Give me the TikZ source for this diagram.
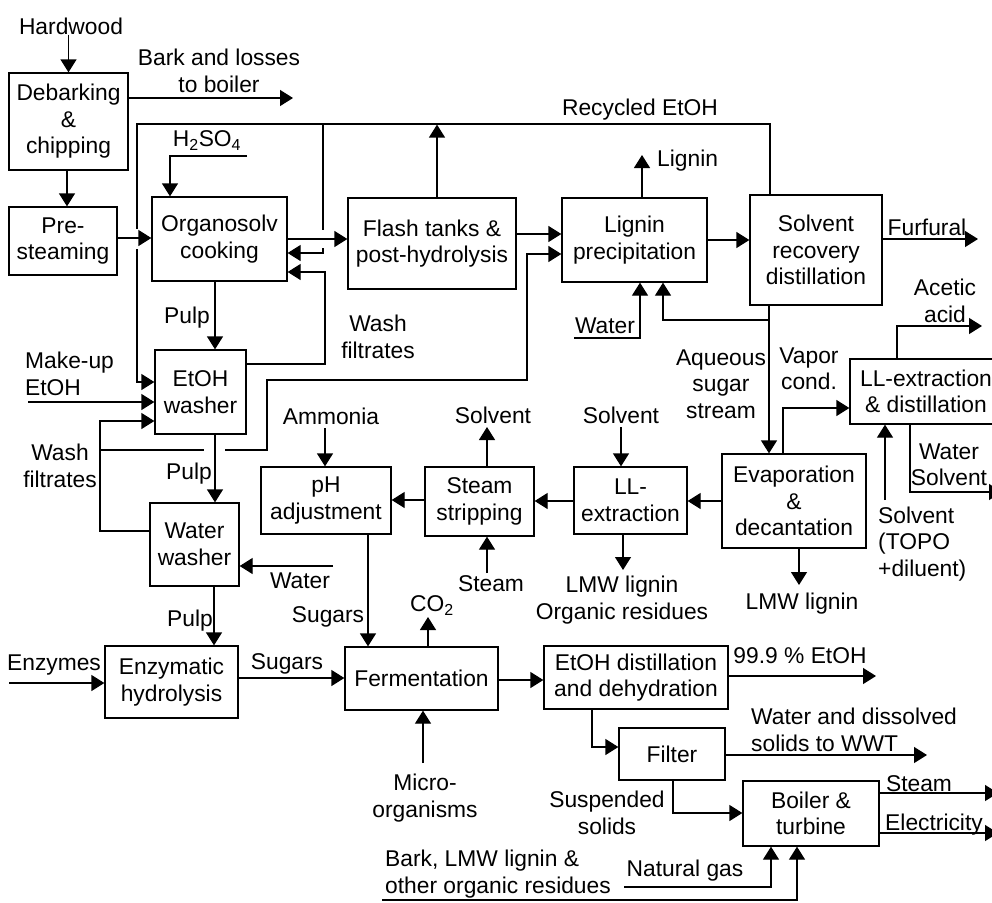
\documentclass[tikz,border=0pt]{standalone}
\usepackage{fontspec}
\setmainfont{Liberation Sans}
\usetikzlibrary{arrows.meta}
\begin{document}
\begin{tikzpicture}[x=1pt,y=-1pt,
  every node/.style={font=\fontsize{22.8}{26.5}\selectfont},
  box/.style={draw, line width=1.3pt, inner sep=0pt, align=center},
  lbl/.style={inner sep=0pt, align=center},
  ln/.style={line width=1.3pt},
  arr/.style={line width=1.3pt, -{Triangle[width=16pt,length=13pt]}}]
\useasboundingbox (0,0) rectangle (992,902);
\clip (0,0) rectangle (992,902);

% ---------- boxes ----------
\node[box, minimum width=119pt, minimum height=97pt] (deb) at (68.5,121.5) {Debarking\\\&\\chipping};
\node[box, minimum width=108pt, minimum height=68pt] (pre) at (63,241) {Pre-\\steaming};
\node[box, minimum width=135pt, minimum height=84pt] (org) at (219.5,239) {Organosolv\\cooking};
\node[box, minimum width=168pt, minimum height=91pt] (flash) at (432,243.5) {Flash tanks \&\\post-hydrolysis};
\node[box, minimum width=145pt, minimum height=84pt] (lig) at (634.5,240) {Lignin\\precipitation};
\node[box, minimum width=132pt, minimum height=110pt] (srd) at (816,250) {Solvent\\recovery\\distillation};
\node[box, minimum width=91pt, minimum height=84pt] (eth) at (200.5,392) {EtOH\\washer};
\node[box, minimum width=89pt, minimum height=83pt] (ww) at (194.5,544.5) {Water\\washer};
\node[box, minimum width=130pt, minimum height=67pt] (ph) at (326,500.5) {pH\\adjustment};
\node[box, minimum width=109pt, minimum height=69pt] (ss) at (479.5,501.5) {Steam\\stripping};
\node[box, minimum width=113pt, minimum height=67pt] (lle) at (630.5,500.5) {LL-\\extraction};
\node[box, minimum width=144pt, minimum height=94pt] (evap) at (794,501) {Evaporation\\\&\\decantation};
\node[box, minimum width=152pt, minimum height=65pt] (lld) at (926,391.5) {LL-extraction\\\& distillation};
\node[box, minimum width=133pt, minimum height=72pt] (enz) at (171.5,682) {Enzymatic\\hydrolysis};
\node[box, minimum width=153pt, minimum height=63pt] (ferm) at (421.5,678.5) {Fermentation};
\node[box, minimum width=184pt, minimum height=63pt] (dist) at (636,677.5) {EtOH distillation\\and dehydration};
\node[box, minimum width=106pt, minimum height=52pt] (filt) at (672,754) {Filter};
\node[box, minimum width=136pt, minimum height=65pt] (boil) at (811,813.5) {Boiler \&\\turbine};

% ---------- labels ----------
\node[lbl] (hardwood) at (71,26) {Hardwood};
\node[lbl] (bark) at (219,71) {Bark and losses\\to boiler};
\node[lbl] (h2so4) at (207,141) {H\textsubscript{2}SO\textsubscript{4}};
\node[lbl] (recyc) at (640,110) {Recycled EtOH};
\node[lbl, anchor=west] (lignin) at (657,161) {Lignin};
\node[lbl] (furf) at (927,227) {Furfural};
\node[lbl] (pulp1) at (187,318) {Pulp};
\node[lbl] (washr) at (378,337) {Wash\\filtrates};
\node[lbl, anchor=west, align=left] (makeup) at (25,374) {Make-up\\EtOH};
\node[lbl] (washl) at (60,466) {Wash\\filtrates};
\node[lbl] (pulp2) at (189,474) {Pulp};
\node[lbl] (ammonia) at (331,416) {Ammonia};
\node[lbl] (water1) at (300,581) {Water};
\node[lbl] (pulp3) at (190,621) {Pulp};
\node[lbl] (sugars1) at (328,617) {Sugars};
\node[lbl] (enzymes) at (54,665) {Enzymes};
\node[lbl] (sugars2) at (287,664) {Sugars};
\node[lbl] (micro) at (425,798) {Micro-\\organisms};
\node[lbl] (co2) at (432,606) {CO\textsubscript{2}};
\node[lbl] (solv1) at (493,415) {Solvent};
\node[lbl] (solv2) at (621,415) {Solvent};
\node[lbl] (steam1) at (491,584) {Steam};
\node[lbl] (lmw1) at (622,600) {LMW lignin\\Organic residues};
\node[lbl] (water2) at (605,326) {Water};
\node[lbl] (aqueous) at (721,384) {Aqueous\\sugar\\stream};
\node[lbl] (vapor) at (809,369) {Vapor\\cond.};
\node[lbl] (acetic) at (945,301) {Acetic\\acid};
\node[lbl] (watsolv) at (949,465) {Water\\Solvent};
\node[lbl, anchor=west, align=left] (topo) at (878,544) {Solvent\\(TOPO\\+diluent)};
\node[lbl] (lmw2) at (802,604) {LMW lignin};
\node[lbl] (etoh99) at (800,656) {99.9 \% EtOH};
\node[lbl, anchor=west, align=left] (wwt) at (751,730) {Water and dissolved\\solids to WWT};
\node[lbl] (susp) at (607,813) {Suspended\\solids};
\node[lbl] (steam2) at (919,784) {Steam};
\node[lbl] (elec) at (934,825) {Electricity};
\node[lbl] (natgas) at (685,871) {Natural gas};
\node[lbl, anchor=west, align=left] (barklmw) at (385,874) {Bark, LMW lignin \&\\other organic residues};

% ---------- free ends ----------
\coordinate (barkend) at (293,98);
\coordinate (furfend) at (978,239);

% ---------- connectors ----------
\draw[arr] (deb.north |- hardwood.south) -- (deb.north);
\draw[arr] (deb.east |- 0,98) -- (barkend);
\draw[arr] (deb.south -| 67,0) -- (pre.north -| 67,0);
\draw[arr] (pre.east |- 0,238) -- (org.west |- 0,238);
\draw[arr] (247,156) -- (170,156) -- (org.north -| 170,0);
% recycled EtOH
\draw[ln] (srd.north -| 770,0) -- (770,124) -- (137,124) -- (137,229);
\draw[arr] (137,249) -- (137,382) -- (eth.west |- 0,382);
\draw[ln] (323,124) -- (323,230);
\draw[arr] (323,248) -- (323,253) -- (org.east |- 0,253);
\draw[arr] (flash.north -| 437,0) -- (437,124.6);
\draw[arr] (org.east |- 0,239) -- (flash.west |- 0,239);
% wash filtrates to organosolv
\draw[arr] (eth.east |- 0,364) -- (325,364) -- (325,272) -- (org.east |- 0,272);
% pulp
\draw[arr] (org.south -| 215,0) -- (eth.north -| 215,0);
\draw[arr] (28,402) -- (eth.west |- 0,402);
\draw[arr] (eth.south -| 215,0) -- (ww.north -| 215,0);
% water washer filtrates
\draw[arr] (ww.west |- 0,531) -- (100,531) -- (100,421) -- (eth.west |- 0,421);
\draw[ln] (100,450) -- (204,450);
\draw[arr] (225,450) -- (267,450) -- (267,380) -- (527,380) -- (527,254) -- (lig.west |- 0,254);
\draw[arr] (333,566) -- (ww.east |- 0,566);
\draw[arr] (ww.south -| 214,0) -- (enz.north -| 214,0);
\draw[arr] (9,683) -- (enz.west |- 0,683);
\draw[arr] (enz.east |- 0,678) -- (ferm.west |- 0,678);
\draw[arr] (ph.south -| 368,0) -- (ferm.north -| 368,0);
\draw[arr] (325,428) -- (ph.north -| 325,0);
\draw[arr] (ss.west |- 0,500) -- (ph.east |- 0,500);
\draw[arr] (ss.north -| 487,0) -- (487,427);
\draw[arr] (487,573) -- (ss.south -| 487,0);
\draw[arr] (lle.west |- 0,501) -- (ss.east |- 0,501);
\draw[arr] (621,427) -- (lle.north -| 621,0);
\draw[arr] (lle.south -| 623,0) -- (623,570);
\draw[arr] (evap.west |- 0,501) -- (lle.east |- 0,501);
\draw[arr] (evap.south -| 799,0) -- (799,585);
\draw[arr] (srd.south -| 769,0) -- (evap.north -| 769,0);
\draw[arr] (769,320) -- (663,320) -- (lig.south -| 663,0);
\draw[arr] (574,338) -- (640,338) -- (lig.south -| 640,0);
\draw[arr] (lig.north -| 642,0) -- (642,155);
\draw[arr] (flash.east |- 0,234) -- (lig.west |- 0,234);
\draw[arr] (lig.east |- 0,240) -- (srd.west |- 0,240);
\draw[arr] (srd.east |- 0,239) -- (furfend);
\draw[arr] (evap.north -| 783,0) -- (783,408) -- (lld.west |- 0,408);
\draw[arr] (lld.north -| 897,0) -- (897,326) -- (982,326);
\draw[arr] (lld.south -| 910,0) -- (910,492) -- (1002,492);
\draw[arr] (885,500) -- (lld.south -| 885,0);
\draw[arr] (ferm.east |- 0,680) -- (dist.west |- 0,680);
\draw[arr] (ferm.north -| 428,0) -- (428,617);
\draw[arr] (423,763) -- (ferm.south -| 423,0);
\draw[arr] (dist.east |- 0,676) -- (876,676);
\draw[arr] (dist.south -| 592,0) -- (592,747) -- (filt.west |- 0,747);
\draw[arr] (filt.east |- 0,755) -- (927,755);
\draw[arr] (filt.south -| 673,0) -- (673,813) -- (boil.west |- 0,813);
\draw[arr] (boil.east |- 0,793) -- (998,793);
\draw[arr] (boil.east |- 0,833) -- (998,833);
\draw[arr] (624,887) -- (771,887) -- (boil.south -| 771,0);
\draw[arr] (382,900) -- (797,900) -- (boil.south -| 797,0);
\end{tikzpicture}
\end{document}
